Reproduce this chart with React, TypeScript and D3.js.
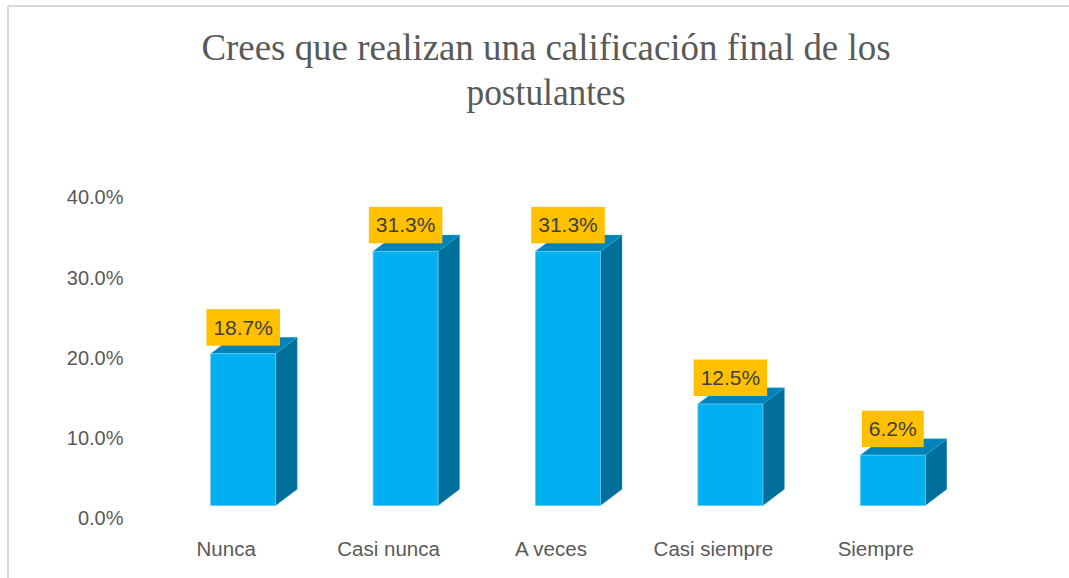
import React from "react";
import * as d3 from "d3";

const categories = ["Nunca", "Casi nunca", "A veces", "Casi siempre", "Siempre"];
const values = [18.7, 31.3, 31.3, 12.5, 6.2];
const tickValues = [0, 10, 20, 30, 40];
const titleLines = ["Crees que realizan una calificación final de los", "postulantes"];

const W = 1069;
const H = 578;

const LABEL_FONT = "'Liberation Sans', Arial, sans-serif";
const TITLE_FONT = "'Liberation Serif', 'Times New Roman', serif";

function measure(text: string, font: string): number {
  if (typeof document === "undefined") return text.length * 10;
  const c = document.createElement("canvas");
  const ctx = c.getContext("2d");
  if (!ctx) return text.length * 10;
  ctx.font = font;
  return ctx.measureText(text).width;
}

export default function App() {
  const x = d3
    .scaleBand<string>()
    .domain(categories)
    .range([162, 974])
    .paddingInner(0.6)
    .paddingOuter(0.3);

  // back-wall scale (axis labels)
  const yAxis = d3.scaleLinear().domain([0, 40]).range([518.3, 197.3]);
  // front-face scale (3D bars are drawn in front of the wall)
  const yBar = d3.scaleLinear().domain([0, 40]).range([505.5, 180.7]);

  const depthX = 21.5;
  const depthY = 16.3;
  const fmt = d3.format(".1f");

  const dataFontSize = 21;
  const dataFont = `${dataFontSize}px ${LABEL_FONT}`;

  return (
    <svg
      width={W}
      height={H}
      viewBox={`0 0 ${W} ${H}`}
      style={{ position: "absolute", left: 0, top: 0, display: "block", background: "#ffffff" }}
    >
      <rect x={0} y={0} width={W} height={H} fill="#ffffff" />
      {/* chart border */}
      <line x1={8} y1={6} x2={W} y2={6} stroke="#d9d9d9" strokeWidth={2} />
      <line x1={8} y1={6} x2={8} y2={H} stroke="#d9d9d9" strokeWidth={2} />

      {/* title */}
      {titleLines.map((t, i) => (
        <text
          key={t}
          x={546}
          y={60 + i * 45}
          textAnchor="middle"
          fontFamily={TITLE_FONT}
          fontSize={38}
          fill="#595959"
          textLength={i === 0 ? 689 : 159}
          lengthAdjust="spacingAndGlyphs"
        >
          {t}
        </text>
      ))}

      {/* y tick labels */}
      {tickValues.map((v) => (
        <text
          key={v}
          x={123.5}
          y={yAxis(v)}
          dy="0.35em"
          textAnchor="end"
          fontFamily={LABEL_FONT}
          fontSize={20}
          fill="#595959"
        >
          {fmt(v)}%
        </text>
      ))}

      {/* bars */}
      {categories.map((c, i) => {
        const x0 = x(c) as number;
        const x1 = x0 + x.bandwidth();
        const yt = yBar(values[i]);
        const yb = yBar(0);
        const top = [
          [x0, yt],
          [x1, yt],
          [x1 + depthX, yt - depthY],
          [x0 + depthX, yt - depthY],
        ];
        const side = [
          [x1, yt],
          [x1, yb],
          [x1 + depthX, yb - depthY],
          [x1 + depthX, yt - depthY],
        ];
        const pts = (p: number[][]) => p.map((q) => q.join(",")).join(" ");
        return (
          <g key={c}>
            <polygon points={pts(side)} fill="#006F9B" stroke="#3a9fc8" strokeWidth={0.6} strokeOpacity={0.6} />
            <polygon points={pts(top)} fill="#0083BA" stroke="#3aa9d6" strokeWidth={0.6} strokeOpacity={0.6} />
            <rect
              x={x0}
              y={yt}
              width={x.bandwidth()}
              height={yb - yt}
              fill="#00B0F0"
              stroke="#5fcbf3"
              strokeWidth={0.8}
            />
          </g>
        );
      })}

      {/* data labels */}
      {categories.map((c, i) => {
        const cx = (x(c) as number) + x.bandwidth() / 2;
        const label = `${fmt(values[i])}%`;
        const tw = measure(label, dataFont);
        const bw = tw + 14;
        const bh = 36.5;
        const by = yBar(values[i]) - 8 - bh;
        return (
          <g key={`lab-${c}`}>
            <rect x={cx - bw / 2} y={by} width={bw} height={bh} fill="#FFC000" />
            <text
              x={cx}
              y={by + bh / 2}
              dy="0.35em"
              textAnchor="middle"
              fontFamily={LABEL_FONT}
              fontSize={dataFontSize}
              fill="#404040"
            >
              {label}
            </text>
          </g>
        );
      })}

      {/* category labels */}
      {categories.map((c) => (
        <text
          key={`cat-${c}`}
          x={(x(c) as number) + x.bandwidth() / 2 - 17}
          y={556}
          textAnchor="middle"
          fontFamily={LABEL_FONT}
          fontSize={20.5}
          fill="#595959"
        >
          {c}
        </text>
      ))}
    </svg>
  );
}
